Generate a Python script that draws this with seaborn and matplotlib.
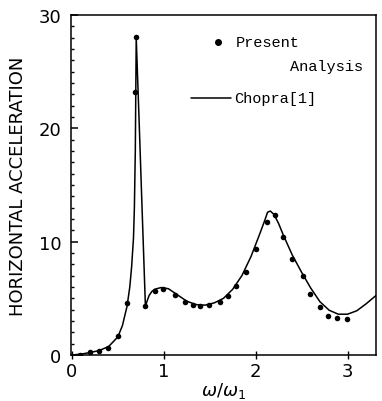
import numpy as np
import pandas as pd
import matplotlib
matplotlib.use("Agg")
import matplotlib.pyplot as plt
from matplotlib.ticker import MultipleLocator
import seaborn as sns

# Present analysis (points)
present_x = [0.09, 0.20, 0.30, 0.39, 0.50, 0.605, 0.69, 0.70, 0.80, 0.90, 0.99,
             1.12, 1.23, 1.32, 1.39, 1.49, 1.61, 1.70, 1.79, 1.89, 2.00, 2.12,
             2.21, 2.30, 2.40, 2.51, 2.59, 2.70, 2.79, 2.89, 2.99]
present_y = [0.0, 0.24, 0.33, 0.6, 1.65, 4.56, 23.2, 28.1, 4.35, 5.68, 5.83,
             5.3, 4.7, 4.41, 4.3, 4.41, 4.7, 5.23, 6.12, 7.35, 9.36, 11.7,
             12.36, 10.44, 8.47, 7.0, 5.38, 4.2, 3.4, 3.24, 3.18]

# Chopra [1] (line)
chopra_x = [0.0, 0.10, 0.20, 0.30, 0.40, 0.50, 0.55, 0.60, 0.63, 0.65, 0.67,
            0.68, 0.69, 0.70, 0.73, 0.76, 0.80, 0.82, 0.84, 0.87, 0.90, 0.97,
            1.05, 1.15, 1.25, 1.35, 1.45, 1.55, 1.65, 1.75, 1.85, 1.95, 2.05,
            2.10, 2.13, 2.16, 2.20, 2.25, 2.30, 2.40, 2.50, 2.60, 2.70, 2.80,
            2.90, 3.00, 3.10, 3.20, 3.31]
chopra_y = [0.0, 0.08, 0.22, 0.40, 0.75, 1.60, 2.60, 4.30, 6.0, 7.8, 10.3,
            13.0, 18.0, 28.0, 21.0, 13.8, 4.30, 4.8, 5.25, 5.6, 5.8, 5.95,
            5.85, 5.3, 4.75, 4.45, 4.4, 4.6, 5.0, 5.8, 7.0, 8.7, 10.8,
            11.9, 12.6, 12.7, 12.4, 11.6, 10.6, 8.8, 7.3, 5.9, 4.7, 3.95,
            3.6, 3.6, 3.9, 4.5, 5.25]

xticks = [0, 1, 2, 3]
yticks = [0, 10, 20, 30]

sns.set_style("ticks")
plt.rcParams["font.family"] = ["DejaVu Sans"]
for k in ["text.color", "axes.labelcolor", "xtick.color", "ytick.color",
          "axes.edgecolor"]:
    plt.rcParams[k] = "black"

fig = plt.figure(figsize=(3.82, 4.02), dpi=100)
ax = fig.add_axes([71 / 382, 1 - 356 / 402, 305 / 382, 340 / 402])

line_df = pd.DataFrame({"x": chopra_x, "y": chopra_y})
pt_df = pd.DataFrame({"x": present_x, "y": present_y})

sns.lineplot(data=line_df, x="x", y="y", ax=ax, color="black", linewidth=1.1,
             sort=False, estimator=None)
sns.scatterplot(data=pt_df, x="x", y="y", ax=ax, color="black", s=16,
                edgecolor="black", linewidth=0, zorder=5)

ax.set_xlim(-0.01, 3.31)
ax.set_ylim(0, 30)
ax.set_xticks(xticks)
ax.set_yticks(yticks)
ax.set_xticklabels([str(t) for t in xticks])
ax.set_yticklabels([str(t) for t in yticks])
ax.yaxis.set_minor_locator(MultipleLocator(1))
ax.tick_params(axis="y", which="major", direction="in", length=5, width=1.1,
               labelsize=13, pad=7)
ax.tick_params(axis="y", which="minor", direction="in", length=2.5, width=1.0)
ax.tick_params(axis="x", which="major", direction="inout", length=6, width=1.0,
               labelsize=13, pad=2)
for sp in ax.spines.values():
    sp.set_visible(True)
    sp.set_color("black")
    sp.set_linewidth(1.1)

ax.set_xlabel(r"$\omega/\omega_1$", fontsize=13, labelpad=0)
ax.set_ylabel("HORIZONTAL ACCELERATION", fontsize=13, labelpad=8)

# legend
mono = ["Liberation Mono", "DejaVu Sans Mono"]
ax.plot([0.482], [0.921], "o", color="black", markersize=4, transform=ax.transAxes)
ax.text(0.541, 0.921, "Present", transform=ax.transAxes, family=mono,
        fontsize=11, va="center", ha="left")
ax.text(0.718, 0.850, "Analysis", transform=ax.transAxes, family=mono,
        fontsize=11, va="center", ha="left")
ax.plot([0.393, 0.525], [0.756, 0.756], "-", color="black", linewidth=1.1,
        transform=ax.transAxes)
ax.text(0.534, 0.756, "Chopra[1]", transform=ax.transAxes, family=mono,
        fontsize=11, va="center", ha="left")

fig.savefig("out.png", dpi=100, facecolor="white")
